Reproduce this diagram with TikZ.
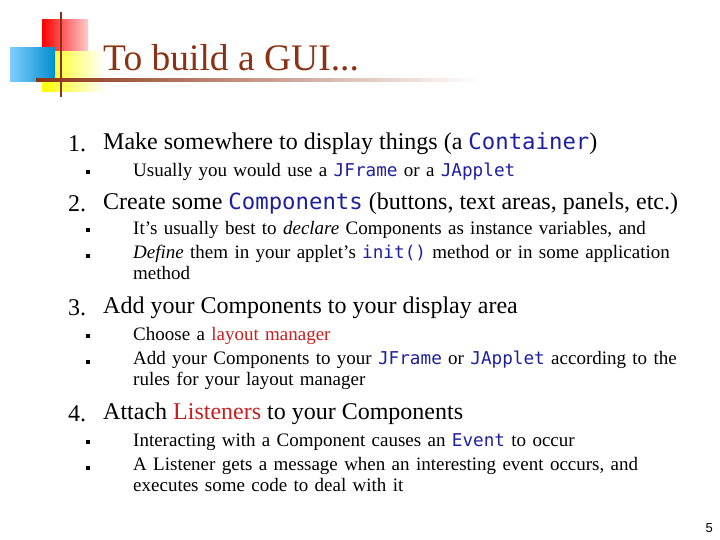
\documentclass[tikz,border=0pt]{standalone}
\usepackage{fontspec}
\setmainfont{Liberation Serif}
\newfontfamily\codef[Scale=0.93]{DejaVu Sans Mono}
\newfontfamily\pgnum{Liberation Sans}
\definecolor{brn}{RGB}{140,50,20}
\definecolor{lred}{RGB}{200,30,30}
\definecolor{cblue}{RGB}{30,30,160}
\begin{document}
\begin{tikzpicture}[x=1pt,y=-1pt,
  lone/.style={anchor=west,inner sep=0pt,font=\fontsize{24}{26}\selectfont},
  ltwo/.style={anchor=west,inner sep=0pt,font=\fontsize{19}{22}\selectfont,align=left,text width=580pt},
  bul/.style={fill=black,minimum size=4pt,inner sep=0pt}]
\useasboundingbox (0,0) rectangle (720,540);
% logo
\shade[left color=red,right color=red!20] (42,20) rectangle (88,52);
\shade[left color=yellow,right color=white] (42,52) rectangle (105,92);
\shade[left color=cyan!60!blue!50,right color=cyan!70!blue!80!black] (10,48) rectangle (55,82);
\draw[brn,line width=2.5pt] (61,12) -- (61,97);
\shade[left color=brn,right color=white] (36,79) rectangle (480,82);
\node[anchor=west,inner sep=0pt,text=brn,font=\fontsize{37.5}{40}\selectfont] (t) at (103,58) {To build a GUI...};
\newcommand{\cd}[1]{{\codef\color{cblue}#1}}
% level 1
\node[lone] (n1) at (68,144) {1.}; \node[lone] (i1) at (103,144) {Make somewhere to display things (a \cd{Container})};
\node[lone] (n2) at (68,204) {2.}; \node[lone] (i2) at (103,204) {Create some \cd{Components} (buttons, text areas, panels, etc.)};
\node[lone] (n3) at (68,308) {3.}; \node[lone] (i3) at (103,308) {Add your Components to your display area};
\node[lone] (n4) at (68,414) {4.}; \node[lone] (i4) at (103,414) {Attach \textcolor{lred}{Listeners} to your Components};
% level 2
\node[bul] (b1) at (88,172) {}; \node[ltwo] (s1) at (133,172) {Usually you would use a \cd{JFrame} or a \cd{JApplet}};
\node[bul] (b2) at (88,230) {}; \node[ltwo] (s2) at (133,230) {It’s usually best to \textit{declare} Components as instance variables, and};
\node[bul] (b3) at (88,256) {}; \node[ltwo,anchor=north west] (s3) at (133,245) {\textit{Define} them in your applet’s \cd{init()} method or in some application\\[-1pt]method};
\node[bul] (b4) at (88,336) {}; \node[ltwo] (s4) at (133,336) {Choose a \textcolor{lred}{layout manager}};
\node[bul] (b5) at (88,362) {}; \node[ltwo,anchor=north west] (s5) at (133,351) {Add your Components to your \cd{JFrame} or \cd{JApplet} according to the\\[-1pt]rules for your layout manager};
\node[bul] (b6) at (88,442) {}; \node[ltwo] (s6) at (133,442) {Interacting with a Component causes an \cd{Event} to occur};
\node[bul] (b7) at (88,468) {}; \node[ltwo,anchor=north west] (s7) at (133,457) {A Listener gets a message when an interesting event occurs, and\\[-1pt]executes some code to deal with it};
\node[anchor=east,inner sep=0pt,font=\pgnum\fontsize{13}{14}\selectfont] (pg) at (713,528) {5};
\end{tikzpicture}
\end{document}
